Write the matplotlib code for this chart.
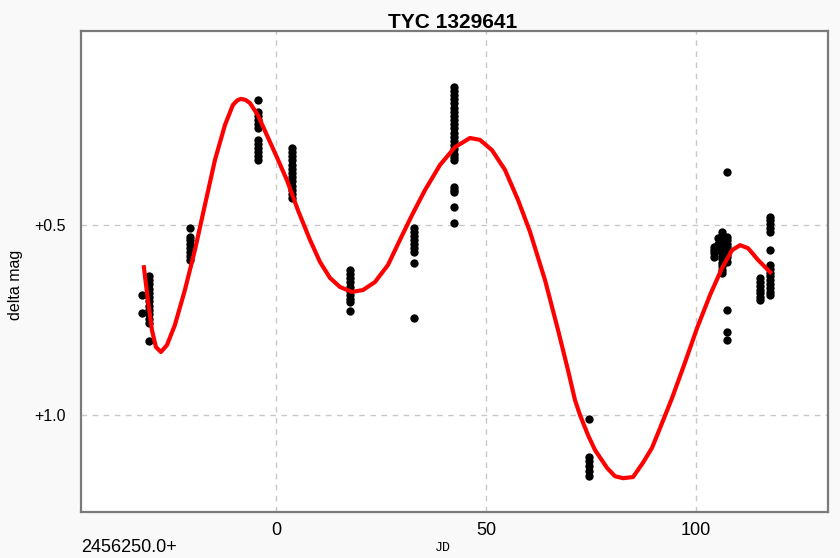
import matplotlib
matplotlib.use("Agg")
import matplotlib.pyplot as plt

# observations: JD offset from 2456250.0 and delta mag
obs_jd = ([-31.8] * 2 + [-30.2] * 13 + [-20.5] * 8 + [-4.3] * 12 + [3.8] * 13 +
          [17.6] * 10 + [32.8] * 9 + [42.4] * 24 + [74.5] * 6 +
          [104.3] * 4 + [105.2] * 3 + [106.1] * 13 + [107.4] * 12 +
          [115.2] * 7 + [117.5] * 15)
obs_mag = [0.684, 0.732,
           0.634, 0.645, 0.656, 0.667, 0.678, 0.690, 0.701, 0.712, 0.724, 0.735, 0.747, 0.758, 0.805,
           0.507, 0.531, 0.540, 0.550, 0.560, 0.571, 0.582, 0.592,
           0.171, 0.203, 0.213, 0.224, 0.235, 0.245, 0.276, 0.287, 0.298, 0.308, 0.319, 0.329,
           0.297, 0.308, 0.319, 0.330, 0.341, 0.352, 0.363, 0.374, 0.385, 0.396, 0.407, 0.418, 0.429,
           0.618, 0.629, 0.640, 0.651, 0.662, 0.673, 0.684, 0.695, 0.703, 0.726,
           0.508, 0.519, 0.530, 0.540, 0.551, 0.561, 0.571, 0.600, 0.745,
           0.136, 0.147, 0.158, 0.169, 0.180, 0.191, 0.202, 0.213, 0.224, 0.235, 0.246, 0.257,
           0.268, 0.279, 0.290, 0.301, 0.312, 0.322, 0.329, 0.400, 0.407, 0.413, 0.453, 0.495,
           1.011, 1.111, 1.122, 1.134, 1.146, 1.161,
           0.557, 0.565, 0.574, 0.583,
           0.535, 0.550, 0.565,
           0.518, 0.527, 0.536, 0.545, 0.554, 0.563, 0.572, 0.581, 0.590, 0.599, 0.608, 0.618, 0.627,
           0.360, 0.531, 0.540, 0.549, 0.558, 0.567, 0.576, 0.585, 0.597, 0.724, 0.781, 0.803,
           0.640, 0.650, 0.660, 0.670, 0.680, 0.690, 0.697,
           0.478, 0.488, 0.498, 0.508, 0.518, 0.566, 0.605, 0.615, 0.625, 0.635, 0.645, 0.655,
           0.665, 0.675, 0.684]

# fitted curve
fit_jd = [-31.43, -30.48, -29.52, -28.57, -27.38, -25.95, -24.05, -21.67, -19.29, -16.90,
          -14.52, -12.14, -10.24, -9.2, -8.33, -7.2, -6.19, -4.29, -2.38, 0.0, 2.62, 5.24, 8.10,
          10.48, 12.86, 15.24, 18.10, 20.71, 23.57, 26.67, 29.52, 32.38, 35.48, 39.05, 42.62,
          46.19, 48.57, 51.43, 54.52, 57.62, 60.48, 64.05, 67.14, 69.52, 71.19, 72.38, 74.29,
          75.95, 78.81, 80.71, 82.62, 85.0, 87.38, 89.52, 91.43, 94.29, 97.38, 100.24, 103.33,
          106.19, 108.57, 110.48, 112.38, 114.76, 117.62]
fit_mag = [0.611, 0.697, 0.776, 0.821, 0.834, 0.816, 0.763, 0.671, 0.566, 0.447,
           0.329, 0.237, 0.184, 0.172, 0.168, 0.171, 0.179, 0.211, 0.258, 0.316, 0.382, 0.461,
           0.539, 0.597, 0.639, 0.663, 0.676, 0.671, 0.650, 0.605, 0.539, 0.474, 0.408, 0.342,
           0.295, 0.271, 0.276, 0.303, 0.355, 0.434, 0.518, 0.645, 0.776, 0.882, 0.961, 1.0,
           1.053, 1.092, 1.139, 1.161, 1.166, 1.163, 1.125, 1.086, 1.034, 0.955, 0.861, 0.771,
           0.684, 0.613, 0.566, 0.553, 0.561, 0.592, 0.624]

x_ticks = [0, 50, 100]
y_ticks = [0.5, 1.0]
y_labels = ['+0.5', '+1.0']

narrow = ['Liberation Sans Narrow', 'Liberation Sans', 'DejaVu Sans']
plt.rcParams['font.family'] = ['Liberation Sans', 'DejaVu Sans']

fig = plt.figure(figsize=(8.4, 5.58), dpi=100, facecolor='#f9f9f9')
ax = fig.add_axes([81 / 840, 1 - 512 / 558, (828 - 81) / 840, (512 - 31) / 558])
ax.set_facecolor('white')

ax.plot(fit_jd, fit_mag, color='#ff0000', lw=3.0, solid_joinstyle='round', zorder=3)
ax.plot(obs_jd, obs_mag, 'o', color='black', ms=6, mec='none', zorder=2)

ax.set_xlim(-46.4, 131.4)
ax.set_ylim(1.255, -0.0105)

ax.set_xticks(x_ticks)
ax.set_xticklabels([str(t) for t in x_ticks], family=narrow, fontsize=13)
ax.set_yticks(y_ticks)
ax.set_yticklabels(y_labels, fontsize=11.5)
ax.tick_params(axis='x', length=0, pad=7)
ax.tick_params(axis='y', length=0, pad=11)
ax.grid(True, color='#c8c8c8', linestyle=(0, (4, 4)), linewidth=1)

for s in ax.spines.values():
    s.set_color('#7a7a7a')
    s.set_linewidth(1.6)

fig.text(453 / 840, 1 - 22 / 558, 'TYC 1329641', ha='center', va='center',
         fontsize=15, fontweight='bold')
fig.text(15.5 / 840, 1 - 285 / 558, 'delta mag', rotation=90, ha='center', va='center',
         fontsize=11.5)
fig.text(81 / 840, 1 - 547 / 558, '2456250.0+', ha='left', va='center',
         family=narrow, fontsize=13)
fig.text(443 / 840, 1 - 548 / 558, 'JD', ha='center', va='center',
         family=['Liberation Mono', 'DejaVu Sans Mono'], fontsize=9.5)

fig.savefig('out.png', dpi=100, facecolor=fig.get_facecolor())
